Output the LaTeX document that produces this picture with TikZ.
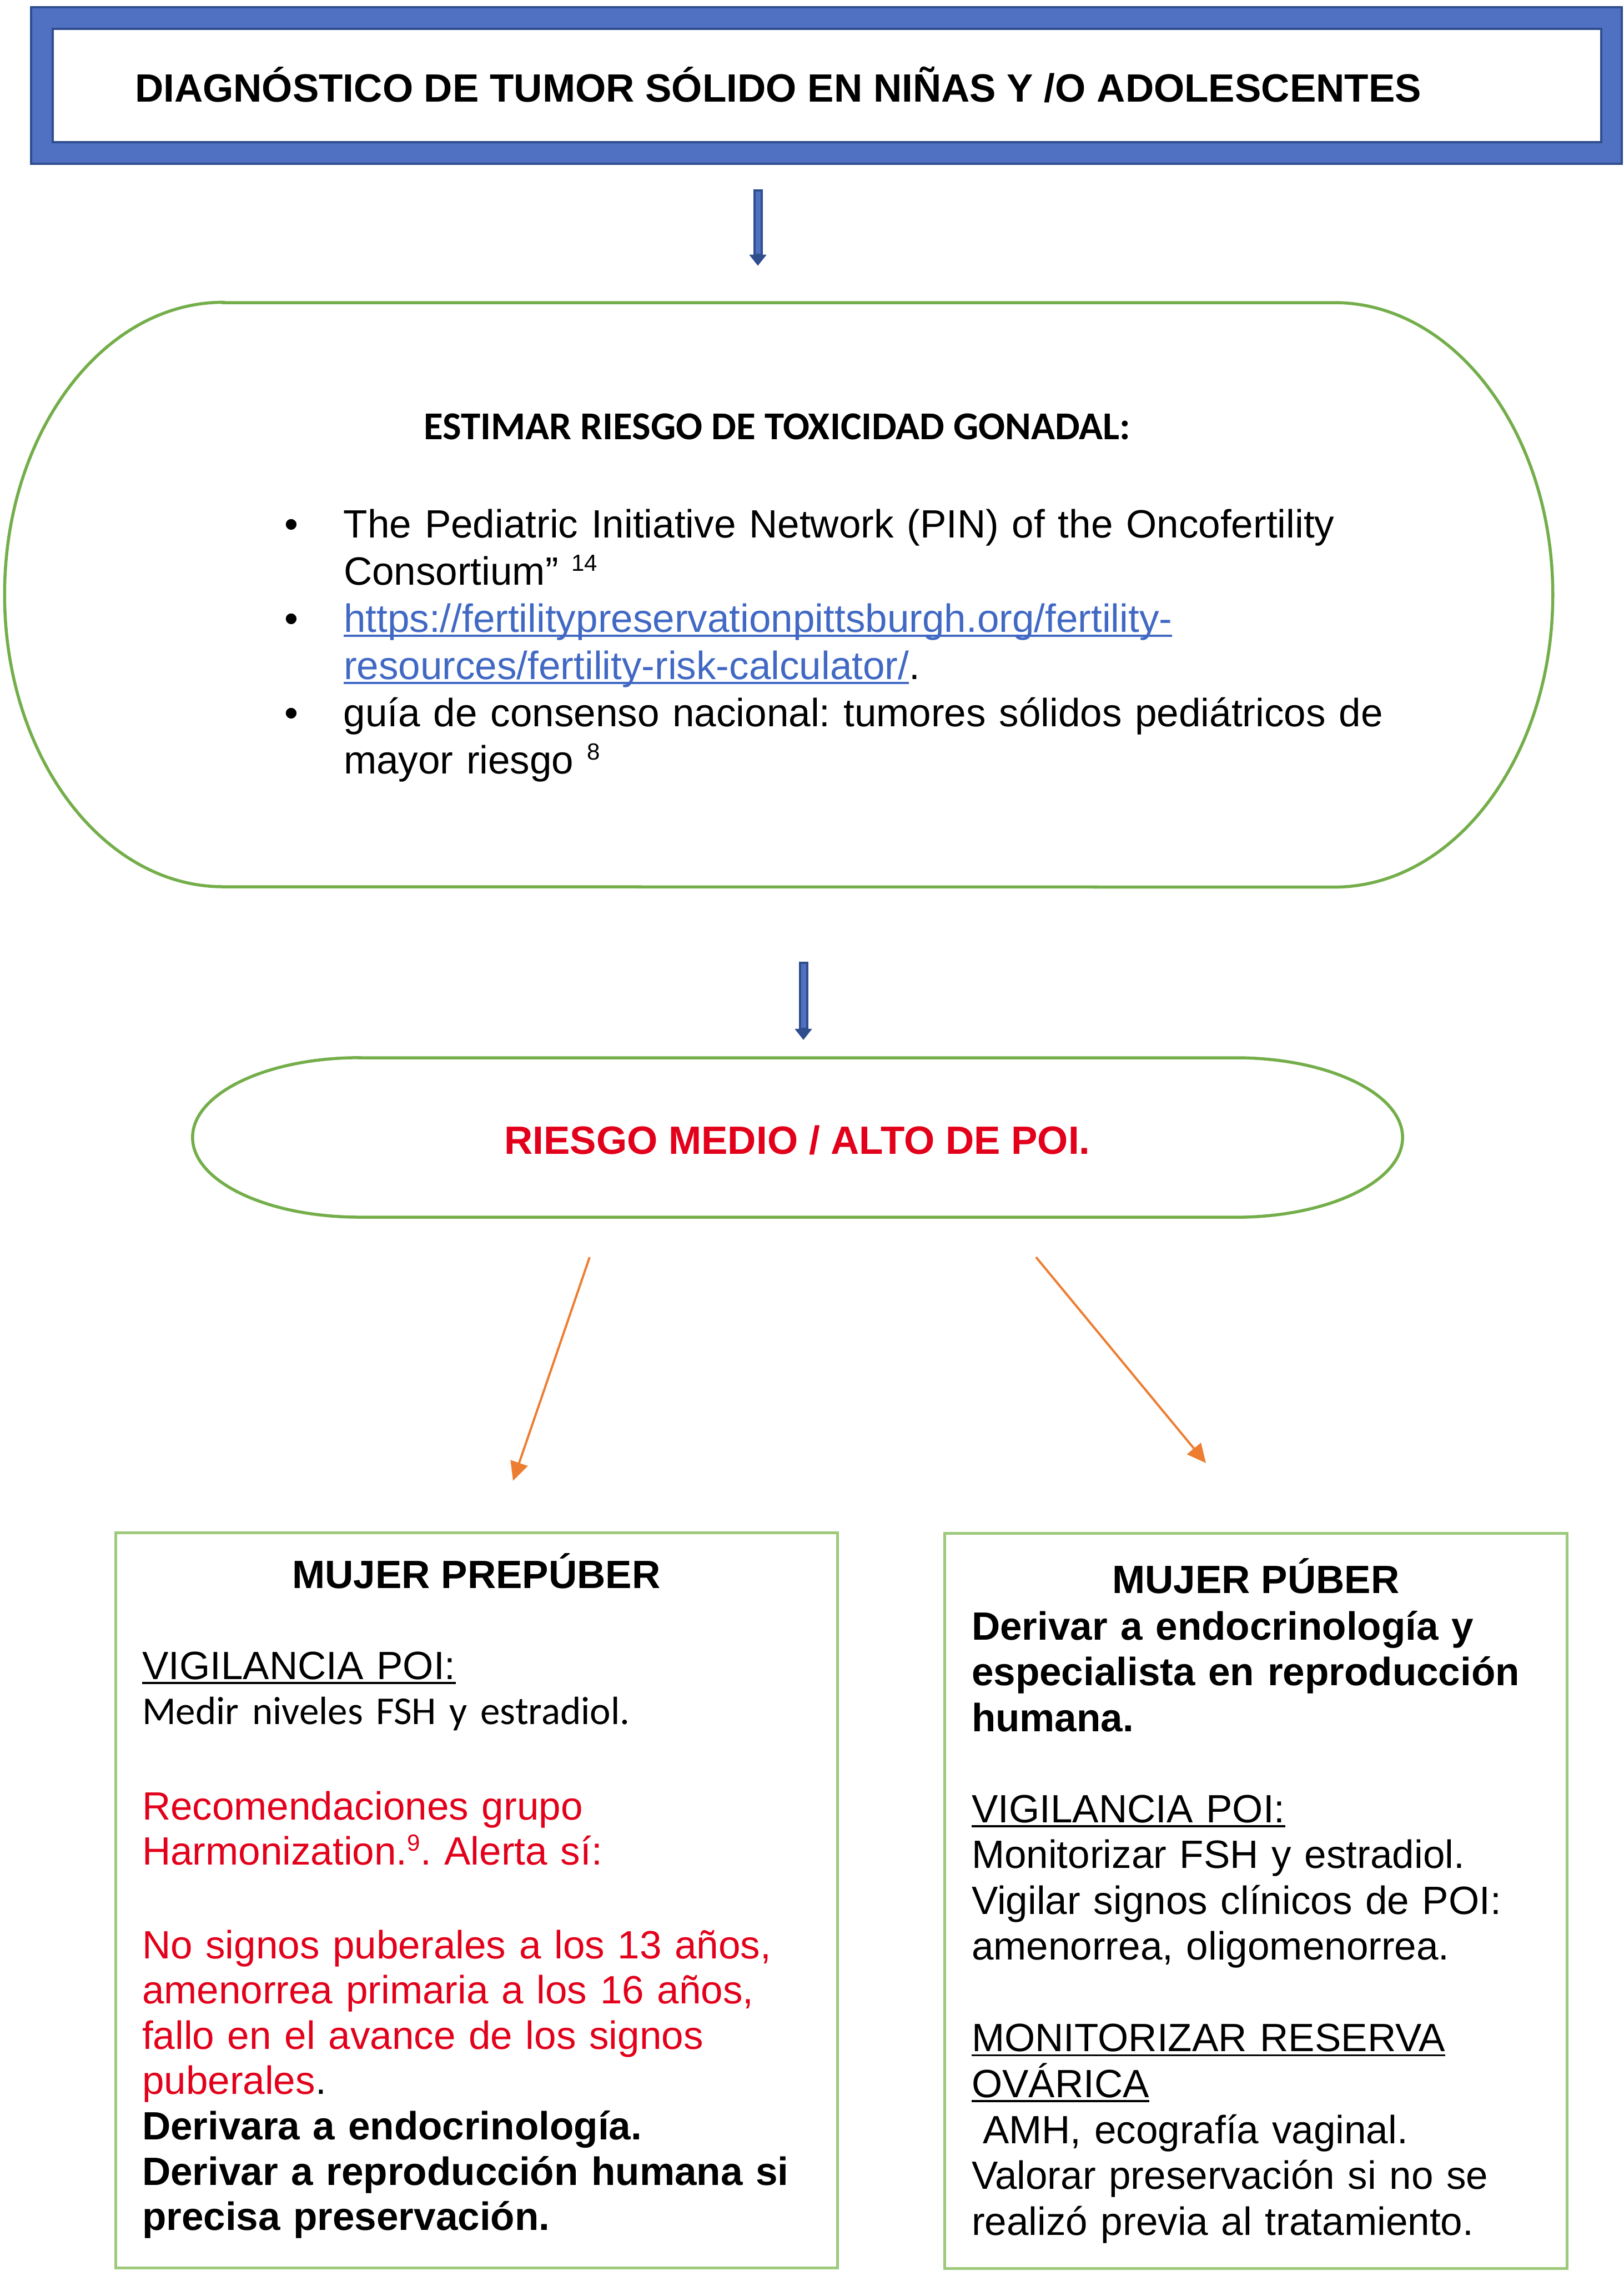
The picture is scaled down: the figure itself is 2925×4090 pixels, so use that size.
\documentclass[tikz,border=0pt]{standalone}
\usepackage{fontspec}
\setmainfont{Liberation Sans}
\newfontfamily\calib{Carlito}
\usetikzlibrary{arrows.meta,calc}
\definecolor{blueF}{HTML}{5070C2}
\definecolor{blueD}{HTML}{2F4E8E}
\definecolor{greenO}{HTML}{74AE4A}
\definecolor{greenB}{HTML}{9DC97A}
\definecolor{redT}{HTML}{E2001A}
\definecolor{urlB}{HTML}{4169C4}
\definecolor{orangeA}{HTML}{ED7D31}
\newsavebox\ulbox
\newcommand\myul[1]{\leavevmode\sbox\ulbox{#1}\rlap{\rule[-0.12em]{\wd\ulbox}{0.05em}}\usebox\ulbox}
\newcommand\supr[1]{\raisebox{0.25cm}{\fontsize{0.42cm}{0.45cm}\selectfont #1}}
\newcommand\bul{\leavevmode\llap{\textbullet\hskip 0.82cm}}
\begin{document}
\frenchspacing
\begin{tikzpicture}[x=0.01cm,y=-0.01cm,
  big/.style={font=\frenchspacing\fontsize{0.71cm}{0.85cm}\selectfont},
  body/.style={inner sep=0pt, outer sep=0pt, align=left, text width=#1},
  lbl/.style={inner sep=0pt, outer sep=0pt},
  shapeline/.style={greenO, line width=0.055cm},
  boxline/.style={draw=greenB, line width=0.055cm, inner sep=0pt},
  blueshaft/.style={blueD, line width=0.17cm, -{Triangle[length=0.2cm,width=0.3cm]}},
  bluecore/.style={blueF, line width=0.09cm, shorten >=0.22cm, shorten <=0.04cm},
  orarrow/.style={orangeA, line width=0.04cm, -{Triangle[length=0.34cm,width=0.32cm]}}]
\useasboundingbox (0,0) rectangle (2925,4090);

% title frame
\node[draw=blueD, fill=blueF, line width=0.045cm, minimum width=28.63cm, minimum height=2.82cm, inner sep=0pt] (top) at (1488.5,154) {};
\node[draw=blueD, fill=white, line width=0.045cm, minimum width=27.87cm, minimum height=2.04cm, inner sep=0pt] (topin) at (1489.5,154) {};
\node[lbl, anchor=base west, font=\bfseries\fontsize{0.71cm}{0.85cm}\selectfont] (title) at (243,183) {DIAGNÓSTICO DE TUMOR SÓLIDO EN NIÑAS Y /O ADOLESCENTES};

% estimation shape
\node[lbl, minimum width=27.87cm, minimum height=10.52cm] (est) at (1402.5,1071) {};
\draw[shapeline] (402,545) -- (2403,545) arc[start angle=90, end angle=-90, x radius=3.935cm, y radius=5.26cm] -- (402,1597) arc[start angle=270, end angle=90, x radius=3.935cm, y radius=5.26cm] -- cycle;
\node[lbl, anchor=base, font=\calib\bfseries\fontsize{0.71cm}{0.85cm}\selectfont] (estt) at (1400,791) {ESTIMAR RIESGO DE TOXICIDAD GONADAL:};
\node[body=19cm, big, anchor=base west] (list) at (619,968) {%
\bul The Pediatric Initiative Network (PIN) of the Oncofertility\\
Consortium” \supr{14}\\
\bul{\color{urlB}\myul{https://fertilitypreservationpittsburgh.org/fertility-}}\\
{\color{urlB}\myul{resources/fertility-risk-calculator/}}.\\
\bul guía de consenso nacional: tumores sólidos pediátricos de\\
mayor riesgo \supr{8}};

% risk oval
\node[lbl, minimum width=21.79cm, minimum height=2.87cm] (ries) at (1436.5,2048.5) {};
\draw[shapeline] (647,1905) -- (2226,1905) arc[start angle=90, end angle=-90, x radius=3cm, y radius=1.435cm] -- (647,2192) arc[start angle=270, end angle=90, x radius=3cm, y radius=1.435cm] -- cycle;
\node[lbl, anchor=base, text=redT, font=\bfseries\fontsize{0.71cm}{0.85cm}\selectfont] (riest) at (1436,2078) {RIESGO MEDIO / ALTO DE POI.};

% bottom boxes
\node[boxline, minimum width=12.99cm, minimum height=13.23cm] (L) at (858.5,3422.5) {};
\node[boxline, minimum width=11.20cm, minimum height=13.23cm] (R) at (2262,3423.5) {};

\node[lbl, anchor=base, font=\bfseries\fontsize{0.71cm}{0.85cm}\selectfont] (Lh) at (858,2860) {MUJER PREPÚBER};
\node[body=12.4cm, anchor=base west, font=\frenchspacing\fontsize{0.71cm}{0.815cm}\selectfont] (Lb) at (256,3024) {%
\myul{VIGILANCIA POI:}\\
{\calib Medir niveles FSH y estradiol.}\\[0.9cm]
{\color{redT}Recomendaciones grupo\\
Harmonization.\supr{9}. Alerta sí:\\[0.87cm]
No signos puberales a los 13 años,\\
amenorrea primaria a los 16 años,\\
fallo en el avance de los signos\\
puberales}.\\
{\bfseries Derivara a endocrinología.\\
Derivar a reproducción humana si\\
precisa preservación.}};

\node[lbl, anchor=base, font=\bfseries\fontsize{0.71cm}{0.85cm}\selectfont] (Rh) at (2262,2869) {MUJER PÚBER};
\node[body=11cm, anchor=base west, font=\frenchspacing\fontsize{0.71cm}{0.825cm}\selectfont] (Rb) at (1750,2953) {%
{\bfseries Derivar a endocrinología y\\
especialista en reproducción\\
humana.}\\[0.815cm]
\myul{VIGILANCIA POI:}\\
Monitorizar FSH y estradiol.\\
Vigilar signos clínicos de POI:\\
amenorrea, oligomenorrea.\\[0.825cm]
\myul{MONITORIZAR RESERVA}\\
\myul{OVÁRICA}\\
\hspace*{0.2cm}AMH, ecografía vaginal.\\
Valorar preservación si no se\\
realizó previa al tratamiento.};

% connectors
\draw[blueshaft] ([shift={(-123.5,44)}]top.south) -- ([shift={(-37.5,-66)}]est.north);
\draw[bluecore] ([shift={(-123.5,44)}]top.south) -- ([shift={(-37.5,-66)}]est.north);
\draw[blueshaft] ([shift={(44.5,135)}]est.south) -- ([shift={(10.5,-32)}]ries.north);
\draw[bluecore] ([shift={(44.5,135)}]est.south) -- ([shift={(10.5,-32)}]ries.north);
\draw[orarrow] ([shift={(-374.5,72)}]ries.south) -- ([shift={(65.5,-91)}]L.north);
\draw[orarrow] ([shift={(429.5,72)}]ries.south) -- ([shift={(-90,-124)}]R.north);
\end{tikzpicture}
\end{document}
